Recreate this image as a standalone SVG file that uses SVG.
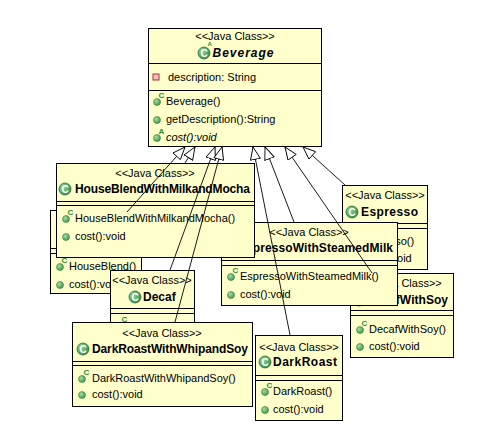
<svg xmlns="http://www.w3.org/2000/svg" width="488" height="437" viewBox="0 0 488 437">
<defs>
<style>
.box{fill:#FFFFCC;stroke:#000;stroke-width:1}
.dv{stroke:#000;stroke-width:1}
.st{font-family:"Liberation Sans",Arial,sans-serif;font-size:11px;text-anchor:middle;fill:#000}
.nm{font-family:"Liberation Sans",Arial,sans-serif;font-size:12px;font-weight:bold;fill:#000}
.mb{font-family:"Liberation Sans",Arial,sans-serif;font-size:11px;fill:#000}
.ci{fill:url(#cg);stroke:#2b6e35;stroke-width:0.8}
.cl{font-family:"Liberation Sans",Arial,sans-serif;font-size:10px;font-weight:bold;fill:#fff;text-anchor:middle}
.md{fill:url(#mg);stroke:#3d7a3d;stroke-width:0.6}
.sp{font-family:"Liberation Sans",Arial,sans-serif;font-size:8px;font-weight:bold;fill:#2f8a2f}
.ln{stroke:#000;stroke-width:0.9;fill:none;marker-end:url(#tri)}
</style>
<radialGradient id="cg" cx="0.35" cy="0.35" r="0.7"><stop offset="0" stop-color="#9ad79c"/><stop offset="1" stop-color="#2f8f44"/></radialGradient>
<radialGradient id="mg" cx="0.35" cy="0.35" r="0.7"><stop offset="0" stop-color="#a8dca8"/><stop offset="1" stop-color="#3f9a46"/></radialGradient>
<marker id="tri" markerUnits="userSpaceOnUse" markerWidth="14" markerHeight="12" refX="13" refY="5.5" orient="auto" viewBox="0 0 14 12"><path d="M0.5,0.5 L13,5.5 L0.5,10.5 Z" fill="#fff" stroke="#000" stroke-width="0.9"/></marker>
</defs>
<rect width="488" height="437" fill="#fff"/>

<g id="HouseBlend">
<rect class="box" x="50.5" y="210.5" width="91" height="83"/>
<line class="dv" x1="50" y1="248.5" x2="141" y2="248.5"/>
<line class="dv" x1="50" y1="253.5" x2="141" y2="253.5"/>
<circle class="md" cx="60" cy="267" r="3.5"/><text class="sp" x="61.5" y="263">C</text>
<text class="mb" x="69" y="270">HouseBlend()</text>
<circle class="md" cx="60" cy="285" r="3.5"/>
<text class="mb" x="69" y="288">cost():void</text>
</g>

<g id="Decaf">
<rect class="box" x="110.5" y="270.5" width="84" height="92"/>
<text class="st" x="152" y="284">&lt;&lt;Java Class&gt;&gt;</text>
<circle class="ci" cx="135" cy="297" r="6"/><text class="cl" x="135" y="300.5">C</text>
<text class="nm" x="143" y="301">Decaf</text>
<line class="dv" x1="110" y1="308.5" x2="194" y2="308.5"/>
<line class="dv" x1="110" y1="313.5" x2="194" y2="313.5"/>
<circle class="md" cx="120" cy="326" r="3.5"/><text class="sp" x="121.5" y="322">C</text>
</g>

<g id="DarkRoastWithWhipandSoy">
<rect class="box" x="72.5" y="322.5" width="180" height="84"/>
<text class="st" x="162" y="337">&lt;&lt;Java Class&gt;&gt;</text>
<circle class="ci" cx="83" cy="349" r="6"/><text class="cl" x="83" y="352.5">C</text>
<text class="nm" x="92" y="353" textLength="156" lengthAdjust="spacing">DarkRoastWithWhipandSoy</text>
<line class="dv" x1="72" y1="361.5" x2="252" y2="361.5"/>
<line class="dv" x1="72" y1="365.5" x2="252" y2="365.5"/>
<circle class="md" cx="82" cy="379" r="3.5"/><text class="sp" x="83.5" y="375">C</text>
<text class="mb" x="92" y="382">DarkRoastWithWhipandSoy()</text>
<circle class="md" cx="82" cy="395" r="3.5"/>
<text class="mb" x="92" y="398">cost():void</text>
</g>

<g id="Espresso">
<rect class="box" x="342.5" y="185.5" width="85" height="84"/>
<text class="st" x="385" y="199">&lt;&lt;Java Class&gt;&gt;</text>
<circle class="ci" cx="352" cy="212" r="6"/><text class="cl" x="352" y="215.5">C</text>
<text class="nm" x="361" y="216" textLength="57" lengthAdjust="spacing">Espresso</text>
<line class="dv" x1="342" y1="223.5" x2="427" y2="223.5"/>
<line class="dv" x1="342" y1="228.5" x2="427" y2="228.5"/>
<circle class="md" cx="352" cy="242" r="3.5"/><text class="sp" x="353.5" y="238">C</text>
<text class="mb" x="361" y="245">Espresso()</text>
<circle class="md" cx="352" cy="259" r="3.5"/>
<text class="mb" x="361" y="262">cost():void</text>
</g>

<g id="DecafWithSoy">
<rect class="box" x="350.5" y="273.5" width="103" height="84"/>
<text class="st" x="402" y="287">&lt;&lt;Java Class&gt;&gt;</text>
<circle class="ci" cx="359" cy="300" r="6"/><text class="cl" x="359" y="303.5">C</text>
<text class="nm" x="367" y="304" textLength="81" lengthAdjust="spacing">DecafWithSoy</text>
<line class="dv" x1="350" y1="310.5" x2="453" y2="310.5"/>
<line class="dv" x1="350" y1="315.5" x2="453" y2="315.5"/>
<circle class="md" cx="360" cy="330" r="3.5"/><text class="sp" x="361.5" y="326">C</text>
<text class="mb" x="369" y="333">DecafWithSoy()</text>
<circle class="md" cx="360" cy="347" r="3.5"/>
<text class="mb" x="369" y="350">cost():void</text>
</g>

<g id="EspressoWithSteamedMilk">
<rect class="box" x="221.5" y="222.5" width="176" height="83"/>
<text class="st" x="309" y="236">&lt;&lt;Java Class&gt;&gt;</text>
<circle class="ci" cx="230" cy="248" r="6"/><text class="cl" x="230" y="251.5">C</text>
<text class="nm" x="238" y="252" textLength="155" lengthAdjust="spacing">EspressoWithSteamedMilk</text>
<line class="dv" x1="221" y1="260.5" x2="397" y2="260.5"/>
<line class="dv" x1="221" y1="265.5" x2="397" y2="265.5"/>
<circle class="md" cx="231" cy="277" r="3.5"/><text class="sp" x="232.5" y="273">C</text>
<text class="mb" x="240" y="280">EspressoWithSteamedMilk()</text>
<circle class="md" cx="231" cy="295" r="3.5"/>
<text class="mb" x="240" y="298">cost():void</text>
</g>

<g id="HouseBlendWithMilkandMocha">
<rect class="box" x="56.5" y="163.5" width="198" height="94"/>
<text class="st" x="155" y="177">&lt;&lt;Java Class&gt;&gt;</text>
<circle class="ci" cx="65" cy="189" r="6"/><text class="cl" x="65" y="192.5">C</text>
<text class="nm" x="75" y="193" textLength="175" lengthAdjust="spacing">HouseBlendWithMilkandMocha</text>
<line class="dv" x1="56" y1="201.5" x2="254" y2="201.5"/>
<line class="dv" x1="56" y1="205.5" x2="254" y2="205.5"/>
<circle class="md" cx="66" cy="219" r="3.5"/><text class="sp" x="67.5" y="215">C</text>
<text class="mb" x="75" y="222">HouseBlendWithMilkandMocha()</text>
<circle class="md" cx="66" cy="237" r="3.5"/>
<text class="mb" x="75" y="240">cost():void</text>
</g>

<g id="DarkRoast">
<rect class="box" x="255.5" y="335.5" width="87" height="85"/>
<text class="st" x="299" y="351">&lt;&lt;Java Class&gt;&gt;</text>
<circle class="ci" cx="265" cy="362" r="6"/><text class="cl" x="265" y="365.5">C</text>
<text class="nm" x="273" y="366" textLength="64" lengthAdjust="spacing">DarkRoast</text>
<line class="dv" x1="255" y1="375.5" x2="342" y2="375.5"/>
<line class="dv" x1="255" y1="380.5" x2="342" y2="380.5"/>
<circle class="md" cx="265" cy="392" r="3.5"/><text class="sp" x="266.5" y="388">C</text>
<text class="mb" x="273" y="395">DarkRoast()</text>
<circle class="md" cx="265" cy="410" r="3.5"/>
<text class="mb" x="273" y="413">cost():void</text>
</g>

<g id="Beverage">
<rect class="box" x="148.5" y="28.5" width="173" height="118"/>
<text class="st" x="235" y="40">&lt;&lt;Java Class&gt;&gt;</text>
<circle class="ci" cx="204" cy="53" r="6"/><text class="cl" x="204" y="56.5">C</text><text class="sp" x="207.6" y="45.6" style="font-size:6px">A</text>
<text class="nm" x="212.5" y="57" font-style="italic" textLength="61" lengthAdjust="spacing">Beverage</text>
<line class="dv" x1="148" y1="63.5" x2="321" y2="63.5"/>
<rect x="153" y="74" width="6" height="6" fill="#f3c0c0" stroke="#b03030" stroke-width="1"/>
<text class="mb" x="168" y="81">description: String</text>
<line class="dv" x1="148" y1="90.5" x2="321" y2="90.5"/>
<circle class="md" cx="157" cy="102" r="3.5"/><text class="sp" x="158.5" y="98">C</text>
<text class="mb" x="166" y="105">Beverage()</text>
<circle class="md" cx="157" cy="120" r="3.5"/>
<text class="mb" x="166" y="123">getDescription():String</text>
<circle class="md" cx="157" cy="138" r="3.5"/><text class="sp" x="158.5" y="134">A</text>
<text class="mb" x="166" y="141" font-style="italic">cost():void</text>
</g>

<g id="connectors">
<line class="ln" x1="127" y1="212" x2="185" y2="147"/>
<line class="ln" x1="185" y1="163" x2="195" y2="147"/>
<line class="ln" x1="170" y1="270" x2="215" y2="147"/>
<line class="ln" x1="175" y1="322" x2="222" y2="147"/>
<line class="ln" x1="290" y1="335" x2="253" y2="147"/>
<line class="ln" x1="294" y1="222" x2="265" y2="147"/>
<line class="ln" x1="372" y1="273" x2="285" y2="147"/>
<line class="ln" x1="345" y1="185" x2="303" y2="147"/>
</g>
</svg>
